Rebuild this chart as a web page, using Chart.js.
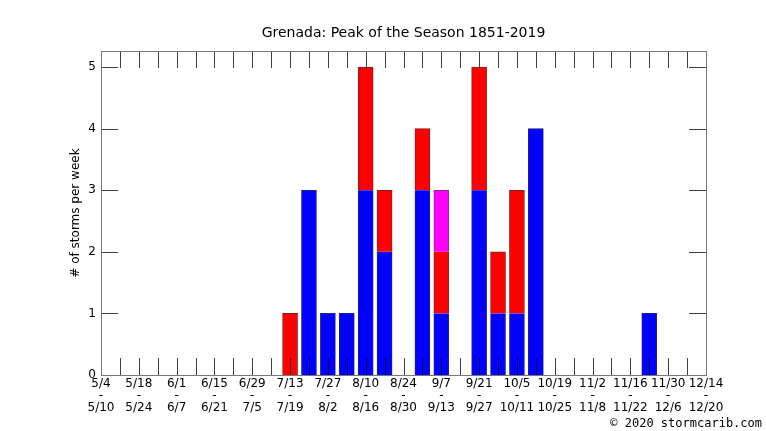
<!DOCTYPE html>
<html>
<head>
<meta charset="utf-8">
<script src="https://cdn.jsdelivr.net/npm/chart.js@4.4.0/dist/chart.umd.min.js"></script>
<style>
html,body{margin:0;padding:0;background:#fff;}
#wrap{width:766px;height:431px;}
</style>
</head>
<body>
<div id="wrap"><canvas id="c" width="766" height="431"></canvas></div>
<script>
// ---- data ----
const chartTitle = 'Grenada: Peak of the Season 1851-2019';
const yAxisTitle = '# of storms per week';
const creditText = '\u00A9 2020 stormcarib.com';
// week index 0 = 5/4 ... 32 = 12/14
const weekIndex = [0,1,2,3,4,5,6,7,8,9,10,11,12,13,14,15,16,17,18,19,20,21,22,23,24,25,26,27,28,29,30,31,32];
const tickStart = ['5/4','5/18','6/1','6/15','6/29','7/13','7/27','8/10','8/24','9/7','9/21','10/5','10/19','11/2','11/16','11/30','12/14'];
const tickEnd   = ['5/10','5/24','6/7','6/21','7/5','7/19','8/2','8/16','8/30','9/13','9/27','10/11','10/25','11/8','11/22','12/6','12/20'];
const yTicks = [0,1,2,3,4,5];
// blue segment (bottom)
const blueCounts    = [0,0,0,0,0,0,0,0,0,0,0,3,1,1,3,2,0,3,1,0,3,1,1,4,0,0,0,0,0,1,0,0,0];
// red segment (middle)
const redCounts     = [0,0,0,0,0,0,0,0,0,0,1,0,0,0,2,1,0,1,1,0,2,1,2,0,0,0,0,0,0,0,0,0,0];
// magenta segment (top)
const magentaCounts = [0,0,0,0,0,0,0,0,0,0,0,0,0,0,0,0,0,0,1,0,0,0,0,0,0,0,0,0,0,0,0,0,0];

const seriesList = [blueCounts, redCounts, magentaCounts];
const toPts = arr => weekIndex.map((w,i) => ({x: w, y: arr[i] === 0 ? null : arr[i]}));

const FONT = 'DejaVu Sans';

// top border only on the top-most visible segment of each stack
function segBorder(c) {
  const di = c.datasetIndex, i = c.dataIndex;
  let top = true;
  for (let k = di + 1; k < seriesList.length; k++) if (seriesList[k][i] > 0) top = false;
  return {left: 1, right: 1, top: top ? 1 : 0, bottom: 0};
}

const frameAndTicks = {
  id: 'frameAndTicks',
  afterDatasetsDraw(chart) {
    const {ctx, chartArea: a, scales: {x, y}} = chart;
    const L = 17;
    ctx.save();
    ctx.lineWidth = 1;
    ctx.strokeStyle = 'rgba(0,0,0,0.75)';
    ctx.beginPath();
    weekIndex.forEach(w => {
      const px = Math.round(x.getPixelForValue(w)) + 0.5;
      ctx.moveTo(px, a.bottom); ctx.lineTo(px, a.bottom - L);
      ctx.moveTo(px, a.top); ctx.lineTo(px, a.top + L);
    });
    yTicks.forEach(v => {
      const py = Math.round(y.getPixelForValue(v)) + 0.5;
      ctx.moveTo(a.left, py); ctx.lineTo(a.left + L, py);
      ctx.moveTo(a.right, py); ctx.lineTo(a.right - L, py);
    });
    ctx.stroke();
    ctx.strokeStyle = '#777';
    ctx.strokeRect(Math.round(a.left) + 0.5, Math.round(a.top) + 0.5, Math.round(a.right - a.left), Math.round(a.bottom - a.top));
    ctx.restore();
  },
  afterDraw(chart) {
    const ctx = chart.ctx;
    ctx.save();
    ctx.font = '12px "DejaVu Sans Mono"';
    ctx.fillStyle = '#000';
    ctx.textAlign = 'right';
    ctx.textBaseline = 'middle';
    ctx.fillText(creditText, 762, 424);
    ctx.restore();
  }
};

new Chart(document.getElementById('c'), {
  type: 'bar',
  data: {
    datasets: [
      {label: 'blue', data: toPts(blueCounts), backgroundColor: '#0000ff', borderColor: '#202080'},
      {label: 'red', data: toPts(redCounts), backgroundColor: '#ff0000', borderColor: '#802020'},
      {label: 'magenta', data: toPts(magentaCounts), backgroundColor: '#ff00ff', borderColor: '#803080'}
    ]
  },
  options: {
    responsive: false,
    devicePixelRatio: 1,
    animation: false,
    layout: {padding: {left: 0, right: 60, top: 0, bottom: 0}},
    datasets: {bar: {barThickness: 15, borderWidth: segBorder, borderSkipped: false}},
    plugins: {
      legend: {display: false},
      tooltip: {enabled: false},
      title: {
        display: true, text: chartTitle, fullSize: false, color: '#000',
        font: {family: FONT, size: 14, weight: 'normal', lineHeight: 1.2},
        padding: {top: 25, bottom: 9.2}
      }
    },
    scales: {
      x: {
        type: 'linear', stacked: true, min: 0, max: 32, offset: false,
        grid: {display: false, drawTicks: false, offset: false},
        border: {display: false},
        afterFit(s) { s.height = 56; },
        ticks: {
          stepSize: 1, autoSkip: false, maxRotation: 0, minRotation: 0, padding: 3,
          color: '#000', font: {family: FONT, size: 12, lineHeight: 1.0},
          callback(v) {
            if (v % 2 !== 0) return '';
            const k = v / 2;
            return [tickStart[k], '-', tickEnd[k]];
          }
        }
      },
      y: {
        stacked: true, min: 0, max: 5.26,
        grid: {display: false, drawTicks: false},
        border: {display: false},
        afterFit(s) { s.width = 101; },
        title: {display: true, text: yAxisTitle, color: '#000', font: {family: FONT, size: 12}, padding: {top: 69, bottom: 0}},
        ticks: {
          stepSize: 1, includeBounds: false, padding: 5, color: '#000',
          font: {family: FONT, size: 12},
          callback(v) { return Number.isInteger(v) ? String(v) : ''; }
        }
      }
    }
  },
  plugins: [frameAndTicks]
});
</script>
</body>
</html>
